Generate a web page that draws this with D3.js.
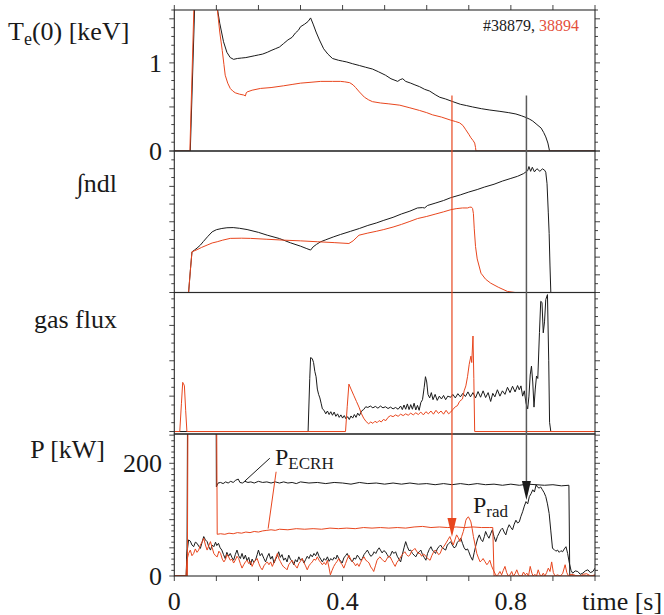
<!DOCTYPE html>
<html><head><meta charset="utf-8">
<script src="https://cdn.jsdelivr.net/npm/d3@7"></script>
<style>
body{margin:0;background:#fff}
</style>
</head><body>
<svg id="chart" width="664" height="615" font-family="'Liberation Serif', 'Times New Roman', Tinos, 'DejaVu Serif', serif"></svg>
<script>
// ---------------- DATA ----------------
const shotBlack = "#38879";
const shotRed = "38894";
const timeTickLabels = [0, 0.4, 0.8];
const teTickLabels = [0, 1];
const pTickLabels = [0, 200];

// Central electron temperature [keV]
const teBlack = [[0,0],[0.038,0],[0.052,2.2],[0.1,2.2],[0.103,1.6],[0.108,1.45],[0.117,1.24],[0.125,1.12],[0.133,1.06],[0.141,1.04],[0.15,1.05],[0.16,1.055],[0.17,1.06],[0.18,1.07],[0.19,1.08],[0.2,1.09],[0.21,1.10],[0.221,1.12],[0.23,1.14],[0.24,1.16],[0.25,1.18],[0.26,1.22],[0.27,1.26],[0.28,1.29],[0.288,1.34],[0.295,1.37],[0.30,1.41],[0.31,1.44],[0.318,1.47],[0.324,1.51],[0.33,1.44],[0.337,1.35],[0.345,1.26],[0.355,1.16],[0.365,1.10],[0.376,1.05],[0.39,1.03],[0.40,1.02],[0.41,1.01],[0.424,0.99],[0.44,0.97],[0.455,0.95],[0.471,0.93],[0.485,0.90],[0.502,0.86],[0.515,0.82],[0.531,0.79],[0.537,0.81],[0.543,0.82],[0.55,0.79],[0.562,0.77],[0.572,0.75],[0.583,0.73],[0.595,0.70],[0.607,0.68],[0.62,0.64],[0.631,0.61],[0.645,0.59],[0.662,0.56],[0.68,0.53],[0.695,0.515],[0.709,0.50],[0.73,0.48],[0.75,0.465],[0.774,0.45],[0.795,0.435],[0.812,0.42],[0.825,0.40],[0.836,0.38],[0.845,0.36],[0.852,0.34],[0.862,0.30],[0.872,0.26],[0.878,0.21],[0.883,0.16],[0.888,0.09],[0.892,0],[1.0,0]];
const teRed = [[0,0],[0.037,0],[0.05,2.2],[0.099,2.2],[0.102,1.62],[0.108,1.35],[0.114,1.14],[0.118,0.98],[0.121,0.86],[0.127,0.77],[0.133,0.71],[0.139,0.68],[0.145,0.66],[0.155,0.645],[0.165,0.635],[0.169,0.625],[0.171,0.66],[0.173,0.67],[0.185,0.69],[0.205,0.71],[0.23,0.72],[0.26,0.74],[0.28,0.755],[0.30,0.77],[0.325,0.78],[0.348,0.79],[0.376,0.79],[0.395,0.79],[0.405,0.785],[0.417,0.775],[0.425,0.75],[0.431,0.72],[0.44,0.67],[0.452,0.61],[0.462,0.58],[0.471,0.56],[0.49,0.545],[0.51,0.535],[0.536,0.52],[0.56,0.49],[0.583,0.46],[0.60,0.435],[0.614,0.41],[0.635,0.385],[0.657,0.35],[0.668,0.335],[0.678,0.32],[0.686,0.29],[0.693,0.24],[0.70,0.19],[0.705,0.15],[0.71,0.12],[0.714,0.09],[0.716,0.04],[0.717,0],[1.0,0]];

// Line integrated density [a.u.]
const neBlack = [[0,0],[0.034,0],[0.038,1.2],[0.042,2.3],[0.048,2.4],[0.054,2.51],[0.062,2.68],[0.069,2.88],[0.08,3.18],[0.09,3.43],[0.1,3.55],[0.113,3.62],[0.125,3.66],[0.14,3.67],[0.155,3.63],[0.173,3.56],[0.2,3.40],[0.221,3.24],[0.25,3.05],[0.276,2.81],[0.3,2.62],[0.315,2.48],[0.324,2.40],[0.33,2.58],[0.338,2.72],[0.348,2.87],[0.36,2.98],[0.379,3.15],[0.395,3.28],[0.419,3.46],[0.44,3.62],[0.46,3.79],[0.48,3.93],[0.498,4.08],[0.52,4.25],[0.54,4.44],[0.56,4.60],[0.578,4.78],[0.59,4.80],[0.595,4.78],[0.602,4.92],[0.62,5.05],[0.64,5.20],[0.657,5.36],[0.68,5.52],[0.70,5.68],[0.72,5.82],[0.737,5.96],[0.76,6.12],[0.78,6.30],[0.80,6.45],[0.816,6.57],[0.83,6.72],[0.840,6.89],[0.843,7.12],[0.847,6.85],[0.851,7.08],[0.856,6.82],[0.862,7.00],[0.869,6.85],[0.875,6.99],[0.880,6.92],[0.883,6.80],[0.886,6.15],[0.889,4.5],[0.891,3.34],[0.893,1.5],[0.895,0],[1,0]];
const neRed = [[0,0],[0.034,0],[0.038,1.2],[0.042,2.3],[0.054,2.42],[0.065,2.55],[0.078,2.68],[0.09,2.80],[0.102,2.87],[0.115,2.96],[0.133,3.06],[0.16,3.07],[0.181,3.06],[0.22,3.01],[0.26,2.96],[0.3,2.92],[0.34,2.87],[0.38,2.82],[0.415,2.77],[0.425,2.92],[0.432,3.08],[0.439,3.24],[0.46,3.36],[0.48,3.46],[0.498,3.56],[0.52,3.70],[0.54,3.85],[0.56,4.02],[0.578,4.18],[0.6,4.30],[0.62,4.43],[0.64,4.56],[0.657,4.68],[0.67,4.74],[0.685,4.78],[0.697,4.78],[0.702,4.82],[0.706,4.83],[0.709,4.75],[0.711,4.46],[0.713,3.6],[0.716,2.6],[0.72,1.9],[0.729,1.09],[0.74,0.75],[0.752,0.53],[0.77,0.30],[0.792,0.06],[0.81,0],[1,0]];

// Gas flux [a.u.]
const gasBlack = [[0,0],[0.318,0],[0.322,1.5],[0.324,2.09],[0.328,2.06],[0.331,1.95],[0.334,1.70],[0.337,1.55],[0.34,1.20],[0.343,1.05],[0.346,0.95],[0.349,0.80],[0.352,0.64],[0.356,0.60],[0.36,0.50],[0.364,0.58],[0.368,0.48],[0.372,0.56],[0.376,0.46],[0.38,0.55],[0.384,0.43],[0.388,0.50],[0.392,0.40],[0.396,0.47],[0.40,0.38],[0.404,0.45],[0.408,0.36],[0.412,0.42],[0.416,0.34],[0.42,0.44],[0.424,0.38],[0.428,0.48],[0.432,0.40],[0.436,0.52],[0.44,0.45],[0.445,0.58],[0.45,0.62],[0.455,0.70],[0.46,0.68],[0.466,0.72],[0.472,0.67],[0.478,0.71],[0.484,0.66],[0.49,0.72],[0.496,0.67],[0.502,0.70],[0.508,0.65],[0.514,0.69],[0.52,0.64],[0.526,0.68],[0.532,0.63],[0.538,0.72],[0.542,0.62],[0.546,0.75],[0.55,0.63],[0.554,0.78],[0.558,0.62],[0.562,0.76],[0.566,0.63],[0.57,0.80],[0.574,0.61],[0.578,0.74],[0.582,0.60],[0.586,0.82],[0.59,0.90],[0.594,1.25],[0.597,1.55],[0.60,1.40],[0.603,1.05],[0.607,0.95],[0.611,1.10],[0.615,0.90],[0.62,1.05],[0.625,0.88],[0.63,1.00],[0.635,0.92],[0.64,1.02],[0.645,0.90],[0.65,1.00],[0.657,0.97],[0.662,1.05],[0.668,0.95],[0.674,1.07],[0.68,0.98],[0.686,1.08],[0.692,0.99],[0.698,1.12],[0.704,0.98],[0.71,1.10],[0.716,0.95],[0.722,1.13],[0.728,0.97],[0.734,1.15],[0.74,0.96],[0.746,1.10],[0.752,0.85],[0.757,1.08],[0.762,0.98],[0.768,1.18],[0.774,1.00],[0.78,1.15],[0.786,1.05],[0.792,1.25],[0.798,1.10],[0.804,1.28],[0.81,1.12],[0.816,1.30],[0.82,1.18],[0.824,1.29],[0.828,1.00],[0.832,1.15],[0.836,0.80],[0.840,0.64],[0.843,1.0],[0.846,1.60],[0.849,1.85],[0.852,1.40],[0.855,0.69],[0.858,1.2],[0.861,1.57],[0.864,1.50],[0.868,2.8],[0.871,3.68],[0.874,3.65],[0.877,2.79],[0.880,3.1],[0.883,3.73],[0.887,3.87],[0.890,2.0],[0.892,0.26],[0.895,0],[1,0]];
const gasRed = [[0,0],[0.013,0],[0.017,0.8],[0.020,1.39],[0.022,1.35],[0.024,1.29],[0.027,0.6],[0.030,0],[0.407,0],[0.411,0.7],[0.415,1.34],[0.42,1.2],[0.427,1.01],[0.433,0.85],[0.439,0.69],[0.445,0.50],[0.45,0.38],[0.456,0.28],[0.462,0.22],[0.467,0.27],[0.472,0.23],[0.477,0.29],[0.482,0.25],[0.487,0.31],[0.492,0.27],[0.497,0.34],[0.503,0.31],[0.508,0.40],[0.514,0.45],[0.52,0.42],[0.526,0.47],[0.532,0.43],[0.538,0.49],[0.544,0.45],[0.55,0.50],[0.556,0.46],[0.562,0.52],[0.568,0.47],[0.574,0.53],[0.58,0.48],[0.586,0.55],[0.592,0.47],[0.598,0.56],[0.604,0.50],[0.61,0.58],[0.616,0.49],[0.622,0.60],[0.628,0.51],[0.634,0.58],[0.64,0.49],[0.646,0.60],[0.652,0.50],[0.657,0.55],[0.662,0.62],[0.668,0.70],[0.673,0.73],[0.678,0.85],[0.685,0.92],[0.689,1.15],[0.693,1.29],[0.697,1.55],[0.701,1.90],[0.705,2.13],[0.707,1.95],[0.710,2.70],[0.712,1.5],[0.714,0],[1,0]];

// Power [kW]
const ecrhBlack = [[0,0],[0.030,0],[0.032,400],[0.099,400],[0.1,158],[0.104,165],[0.11,166],[0.116,164],[0.122,167],[0.128,165],[0.134,168],[0.14,166],[0.146,170],[0.152,172],[0.156,166],[0.162,165],[0.168,168],[0.175,166],[0.182,167],[0.19,165],[0.2,168],[0.21,166],[0.22,167],[0.23,165],[0.24,167],[0.25,165],[0.26,167],[0.27,165],[0.28,166],[0.29,164],[0.3,167],[0.32,165],[0.34,166],[0.36,164],[0.38,166],[0.40,165],[0.42,163],[0.44,166],[0.46,164],[0.48,165],[0.5,163],[0.52,165],[0.54,163],[0.56,165],[0.58,163],[0.6,164],[0.62,162],[0.64,164],[0.66,162],[0.68,164],[0.70,162],[0.72,164],[0.74,162],[0.76,163],[0.78,161],[0.80,163],[0.82,161],[0.84,163],[0.86,162],[0.88,161],[0.90,162],[0.92,160],[0.938,161],[0.940,0],[1,0]];
const ecrhRed = [[0,0],[0.031,0],[0.033,400],[0.1,400],[0.102,74],[0.11,75],[0.12,74],[0.13,76],[0.14,75],[0.15,77],[0.16,76],[0.17,78],[0.18,77],[0.19,79],[0.2,78],[0.21,80],[0.22,81],[0.23,82],[0.24,81],[0.25,83],[0.27,82],[0.29,84],[0.31,83],[0.33,84],[0.35,83],[0.37,85],[0.39,84],[0.41,85],[0.43,84],[0.45,86],[0.47,85],[0.49,86],[0.51,85],[0.53,86],[0.55,85],[0.57,87],[0.59,88],[0.61,86],[0.63,87],[0.65,86],[0.67,87],[0.69,86],[0.71,87],[0.73,86],[0.75,86],[0.757,86],[0.760,0],[1,0]];
const pradBlack = [[0,0],[0.028,0],[0.030,40],[0.034,64],[0.038,62],[0.042,55],[0.046,52],[0.050,60],[0.054,58],[0.058,53],[0.062,49],[0.066,60],[0.07,70],[0.074,64],[0.078,61],[0.082,52],[0.086,46],[0.09,55],[0.094,52],[0.098,60],[0.101,54],[0.105,58],[0.109,50],[0.113,46],[0.117,38],[0.121,31],[0.125,42],[0.129,35],[0.133,40],[0.137,33],[0.141,28],[0.145,38],[0.149,46],[0.153,36],[0.157,31],[0.161,40],[0.165,30],[0.169,37],[0.173,27],[0.177,33],[0.181,20],[0.185,30],[0.189,24],[0.193,28],[0.197,38],[0.2,46],[0.204,36],[0.208,40],[0.213,31],[0.217,25],[0.221,34],[0.225,40],[0.229,30],[0.233,35],[0.237,23],[0.241,30],[0.245,36],[0.248,43],[0.252,33],[0.256,38],[0.26,28],[0.264,32],[0.268,25],[0.272,37],[0.276,30],[0.28,26],[0.284,20],[0.288,29],[0.292,25],[0.296,34],[0.3,28],[0.304,31],[0.308,23],[0.312,29],[0.316,35],[0.32,31],[0.324,38],[0.328,34],[0.332,40],[0.336,36],[0.34,43],[0.344,35],[0.348,30],[0.352,25],[0.356,31],[0.36,28],[0.364,34],[0.368,26],[0.372,31],[0.376,28],[0.38,33],[0.384,30],[0.387,37],[0.391,31],[0.395,27],[0.399,23],[0.403,32],[0.407,36],[0.411,40],[0.415,33],[0.419,29],[0.423,25],[0.427,32],[0.431,30],[0.435,37],[0.439,33],[0.443,28],[0.447,31],[0.451,38],[0.455,42],[0.459,46],[0.463,40],[0.467,35],[0.471,37],[0.475,43],[0.479,40],[0.483,46],[0.487,50],[0.490,46],[0.494,41],[0.498,45],[0.502,43],[0.506,38],[0.51,33],[0.514,37],[0.518,44],[0.522,40],[0.526,43],[0.53,35],[0.534,30],[0.538,25],[0.542,38],[0.546,50],[0.55,61],[0.554,52],[0.558,45],[0.562,46],[0.566,40],[0.57,37],[0.574,34],[0.578,40],[0.582,43],[0.586,46],[0.59,38],[0.594,33],[0.598,28],[0.602,40],[0.606,47],[0.61,52],[0.614,45],[0.618,43],[0.621,40],[0.625,48],[0.629,52],[0.633,55],[0.637,50],[0.641,48],[0.645,46],[0.649,55],[0.653,58],[0.657,61],[0.661,55],[0.665,50],[0.669,52],[0.673,60],[0.677,63],[0.681,67],[0.685,58],[0.689,50],[0.693,46],[0.697,48],[0.70,43],[0.704,35],[0.709,28],[0.713,42],[0.717,55],[0.721,66],[0.725,73],[0.729,65],[0.733,61],[0.737,70],[0.740,79],[0.744,72],[0.748,67],[0.752,75],[0.756,82],[0.760,70],[0.764,61],[0.768,70],[0.772,76],[0.776,82],[0.78,85],[0.784,78],[0.788,73],[0.792,84],[0.796,91],[0.80,86],[0.804,82],[0.808,92],[0.812,99],[0.816,94],[0.82,96],[0.824,106],[0.828,114],[0.832,124],[0.836,132],[0.84,128],[0.844,141],[0.848,146],[0.852,153],[0.856,149],[0.860,162],[0.863,158],[0.867,156],[0.871,158],[0.875,153],[0.879,148],[0.883,141],[0.887,128],[0.891,111],[0.895,80],[0.899,49],[0.903,47],[0.907,44],[0.911,46],[0.915,42],[0.919,45],[0.923,43],[0.927,48],[0.931,52],[0.935,40],[0.939,23],[0.943,10],[0.947,5],[0.953,9],[0.959,8],[0.965,3],[0.971,5],[0.977,9],[0.983,11],[0.989,6],[0.995,8],[1.0,14]];
const pradRed = [[0,0],[0.028,0],[0.030,28],[0.034,40],[0.038,46],[0.042,36],[0.046,40],[0.05,48],[0.054,42],[0.058,46],[0.062,55],[0.066,60],[0.07,67],[0.074,55],[0.078,46],[0.082,54],[0.086,61],[0.09,50],[0.094,40],[0.098,36],[0.102,34],[0.106,44],[0.110,40],[0.114,30],[0.118,25],[0.122,30],[0.125,38],[0.129,34],[0.133,28],[0.137,30],[0.141,23],[0.145,28],[0.149,35],[0.153,31],[0.157,22],[0.161,14],[0.165,20],[0.169,25],[0.173,28],[0.177,22],[0.181,26],[0.185,17],[0.189,24],[0.193,28],[0.197,31],[0.201,22],[0.205,15],[0.209,11],[0.213,18],[0.217,22],[0.221,25],[0.225,20],[0.229,25],[0.233,17],[0.237,24],[0.241,32],[0.245,40],[0.249,30],[0.252,26],[0.256,20],[0.26,16],[0.264,14],[0.268,11],[0.272,20],[0.276,24],[0.28,28],[0.284,22],[0.288,18],[0.292,14],[0.296,22],[0.3,26],[0.304,31],[0.308,24],[0.312,18],[0.316,11],[0.32,18],[0.324,22],[0.328,25],[0.332,30],[0.336,28],[0.34,34],[0.344,28],[0.348,24],[0.352,20],[0.356,24],[0.36,20],[0.364,28],[0.368,14],[0.371,2],[0.375,10],[0.379,17],[0.383,22],[0.387,26],[0.391,31],[0.395,24],[0.399,20],[0.403,14],[0.407,22],[0.411,30],[0.415,37],[0.419,30],[0.423,26],[0.427,23],[0.431,18],[0.435,22],[0.439,17],[0.443,24],[0.447,30],[0.451,34],[0.455,28],[0.459,26],[0.463,23],[0.467,16],[0.471,12],[0.474,8],[0.478,18],[0.482,28],[0.486,32],[0.489,34],[0.493,30],[0.497,27],[0.501,25],[0.505,30],[0.509,35],[0.513,34],[0.517,28],[0.521,22],[0.525,17],[0.529,24],[0.533,28],[0.536,31],[0.540,36],[0.544,40],[0.548,43],[0.552,38],[0.556,35],[0.560,37],[0.564,44],[0.568,46],[0.572,49],[0.576,44],[0.580,40],[0.584,40],[0.588,35],[0.592,39],[0.596,37],[0.600,33],[0.604,30],[0.608,28],[0.612,36],[0.616,42],[0.620,46],[0.624,43],[0.628,38],[0.632,40],[0.636,48],[0.640,52],[0.643,55],[0.647,60],[0.651,65],[0.655,70],[0.659,62],[0.663,55],[0.667,64],[0.671,73],[0.675,68],[0.679,61],[0.683,70],[0.687,79],[0.690,88],[0.693,99],[0.696,103],[0.699,105],[0.702,101],[0.705,96],[0.708,84],[0.711,70],[0.715,55],[0.719,40],[0.723,32],[0.727,25],[0.731,28],[0.734,31],[0.738,26],[0.743,20],[0.747,24],[0.750,28],[0.754,18],[0.758,11],[0.762,5],[0.766,0],[0.770,3],[0.774,8],[0.778,2],[0.782,10],[0.786,17],[0.790,6],[0.794,0],[0.798,2],[0.802,8],[0.806,0],[0.810,4],[0.814,11],[0.818,3],[0.822,0],[0.826,0],[0.830,7],[0.834,2],[0.838,5],[0.842,0],[0.846,17],[0.850,5],[0.853,0],[0.857,3],[0.861,0],[0.865,11],[0.869,2],[0.873,0],[0.877,5],[0.881,0],[0.885,6],[0.889,14],[0.893,8],[0.897,25],[0.901,6],[0.905,0],[0.911,2],[0.917,0],[0.923,4],[0.929,20],[0.933,6],[0.937,0],[0.943,3],[0.95,2],[0.957,0],[0.965,0],[0.972,3],[0.98,4],[0.99,0],[1,2]];

// Marked times [s] for the two shots (vertical arrows) with arrow tip power [kW]
const markerTimes = [0.660, 0.837];
const markerStartTe = [0.63, 0.63];
const markerTipP = [69, 135];

// ---------------- LAYOUT ----------------
const BLACK = "#1a1a1a", RED = "#e8461e", GREY = "#5a5a5a";
const svg = d3.select("#chart");
const x = d3.scaleLinear().domain([0, 1.0]).range([174.3, 595]);
const panels = [
  {y0:10,    y1:151,   domain:[0,1.6],       minor:0.1,  major:0.5},
  {y0:151,   y1:292.5, domain:[0,8],         minor:0.5,  major:1},
  {y0:292.5, y1:434,   domain:[-0.07,3.93],  minor:0.25, major:1},
  {y0:434,   y1:576,   domain:[0,252],       minor:10,   major:50}
];
panels.forEach(p => { p.y = d3.scaleLinear().domain(p.domain).range([p.y1, p.y0]); });

const defs = svg.append("defs");
panels.forEach((p,i) => {
  defs.append("clipPath").attr("id","clip"+i).append("rect")
    .attr("x", x.range()[0]).attr("y", p.y0).attr("width", x.range()[1]-x.range()[0]).attr("height", p.y1-p.y0);
});

// ticks on left/right of each panel
panels.forEach((p,i) => {
  const g = svg.append("g");
  const start = Math.ceil(p.domain[0]/p.minor - 1e-6);
  const stop = Math.floor(p.domain[1]/p.minor + 1e-6);
  for (let k = start; k <= stop; k++) {
    const v = k*p.minor;
    const yy = p.y(v);
    if (yy < p.y0 - 0.5 || yy > p.y1 + 0.5) continue;
    const isMajor = Math.abs(v/p.major - Math.round(v/p.major)) < 1e-6;
    const len = isMajor ? 5 : 3;
    g.append("line").attr("x1", x.range()[0]-len).attr("x2", x.range()[0]).attr("y1", yy).attr("y2", yy)
      .attr("stroke", "#444").attr("stroke-width", 1);
    g.append("line").attr("x1", x.range()[1]).attr("x2", x.range()[1]+len).attr("y1", yy).attr("y2", yy)
      .attr("stroke", "#444").attr("stroke-width", 1);
  }
});

// time ticks top and bottom
const tTicks = d3.range(0, 1.0001, 0.1);
tTicks.forEach(t => {
  svg.append("line").attr("x1", x(t)).attr("x2", x(t)).attr("y1", 5).attr("y2", 10).attr("stroke","#444");
  svg.append("line").attr("x1", x(t)).attr("x2", x(t)).attr("y1", 576).attr("y2", 581).attr("stroke","#444");
});

// data lines
const line = (p) => d3.line().x(d => x(d[0])).y(d => p.y(d[1]));
const series = [
  [0, teBlack, BLACK], [0, teRed, RED],
  [1, neBlack, BLACK], [1, neRed, RED],
  [2, gasBlack, BLACK], [2, gasRed, RED],
  [3, ecrhBlack, BLACK], [3, pradBlack, BLACK], [3, ecrhRed, RED], [3, pradRed, RED]
];
series.forEach(([pi, data, col]) => {
  svg.append("path").attr("clip-path", `url(#clip${pi})`)
    .attr("d", line(panels[pi])(data)).attr("fill","none").attr("stroke", col)
    .attr("stroke-width", 1).attr("stroke-linejoin","round");
});

// panel frames
panels.forEach(p => {
  svg.append("rect").attr("x", x.range()[0]).attr("y", p.y0)
    .attr("width", x.range()[1]-x.range()[0]).attr("height", p.y1-p.y0)
    .attr("fill","none").attr("stroke","#2a2a2a").attr("stroke-width",1.1);
});

// vertical marker arrows
const markerColors = [RED, GREY];
const headColors = [RED, BLACK];
markerTimes.forEach((t,i) => {
  const xx = x(t);
  const yTop = panels[0].y(markerStartTe[i]);
  const yTip = panels[3].y(markerTipP[i]);
  svg.append("line").attr("x1", xx).attr("x2", xx).attr("y1", yTop).attr("y2", yTip-18)
    .attr("stroke", markerColors[i]).attr("stroke-width", i===0 ? 1.2 : 1.5);
  svg.append("path").attr("d", `M${xx-4.5},${yTip-19} L${xx+4.5},${yTip-19} L${xx},${yTip} Z`)
    .attr("fill", headColors[i]);
});

// text helper
const txt = (xx, yy, size, anchor) => svg.append("text").attr("x", xx).attr("y", yy)
  .attr("font-size", size).attr("text-anchor", anchor || "start").attr("fill", "#1a1a1a");

// y labels
const te = txt(8, 40, 26);
te.append("tspan").text("T");
te.append("tspan").attr("font-size", 18).attr("dy", 5).text("e");
te.append("tspan").attr("dy", -5).text("(0) [keV]");
txt(117, 192, 26, "end").text("\u222Bndl");
txt(117, 328, 26, "end").text("gas flux");
txt(105, 458, 26, "end").text("P [kW]");

// tick labels
teTickLabels.forEach(v => txt(162, panels[0].y(v) + 9, 26, "end").text(d3.format("d")(v)));
pTickLabels.forEach(v => txt(162, panels[3].y(v) + 9, 26, "end").text(d3.format("d")(v)));
timeTickLabels.forEach(v => txt(x(v), 610, 26, "middle").text(v === 0 ? "0" : d3.format(".1f")(v)));
txt(582, 610, 26).text("time [s]");

// shot numbers
const sh = txt(483, 31, 16);
sh.append("tspan").text(shotBlack + ", ");
sh.append("tspan").attr("fill", "#e4503c").text(shotRed);

// P labels with leader lines
const pe = txt(275, 465, 24);
pe.append("tspan").text("P");
pe.append("tspan").attr("font-size", 17).attr("dy", 4).text("ECRH");
const pr = txt(473, 513, 24);
pr.append("tspan").text("P");
pr.append("tspan").attr("font-size", 17).attr("dy", 4).text("rad");
svg.append("line").attr("x1", x(0.167)).attr("y1", panels[3].y(168)).attr("x2", x(0.227)).attr("y2", panels[3].y(209))
  .attr("stroke", BLACK).attr("stroke-width", 1);
svg.append("line").attr("x1", x(0.223)).attr("y1", panels[3].y(84)).attr("x2", x(0.242)).attr("y2", panels[3].y(185))
  .attr("stroke", RED).attr("stroke-width", 1);
</script>
</body></html>
